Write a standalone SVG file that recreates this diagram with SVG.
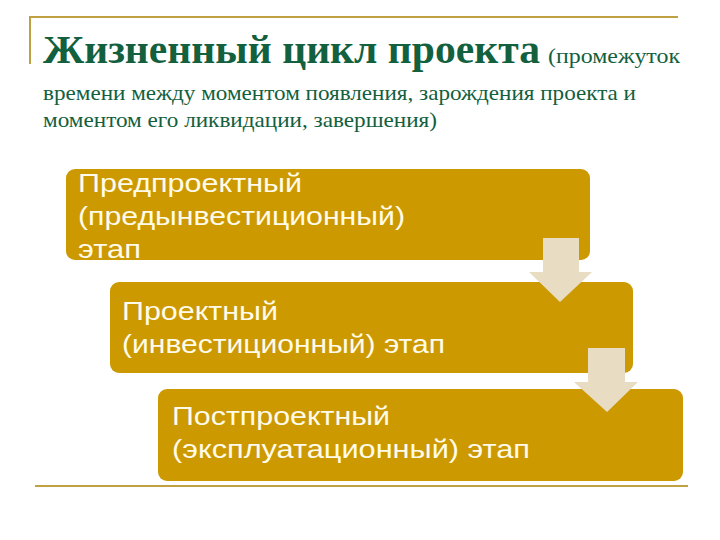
<svg xmlns="http://www.w3.org/2000/svg" width="720" height="540" viewBox="0 0 720 540">
<style>
.rule{stroke:#bfa043;stroke-width:2;fill:none}
.title{font-family:"Liberation Serif","DejaVu Serif",serif;font-weight:bold;fill:#12603e}
.sub{font-family:"Liberation Serif","DejaVu Serif",serif;fill:#12603e}
.box{fill:#cc9900}
.lbl{font-family:"Liberation Sans",Arial,sans-serif;font-size:26px;fill:#fffbea}
.arr{fill:#e8dcc2}
</style>
<rect width="720" height="540" fill="#ffffff"/>
<g id="frame">
<line class="rule" x1="29" y1="17" x2="678" y2="17"/>
<line class="rule" x1="30" y1="17" x2="30" y2="64"/>
<line class="rule" x1="35" y1="486" x2="688" y2="486"/>
</g>
<g id="heading">
<text class="title" x="43" y="63" font-size="41" textLength="497" lengthAdjust="spacingAndGlyphs">Жизненный цикл проекта</text>
<text class="sub" x="548" y="63" font-size="21" textLength="132" lengthAdjust="spacingAndGlyphs">(промежуток</text>
<text class="sub" x="43" y="100" font-size="21" textLength="593" lengthAdjust="spacingAndGlyphs">времени между моментом появления, зарождения проекта и</text>
<text class="sub" x="43" y="127" font-size="21" textLength="394" lengthAdjust="spacingAndGlyphs">моментом его ликвидации, завершения)</text>
</g>
<g id="stage1">
<rect class="box" x="66" y="169" width="524" height="91" rx="9"/>
<text class="lbl" x="78" y="192" textLength="224" lengthAdjust="spacingAndGlyphs">Предпроектный</text>
<text class="lbl" x="78" y="225" textLength="327" lengthAdjust="spacingAndGlyphs">(предынвестиционный)</text>
<text class="lbl" x="78" y="258" textLength="63" lengthAdjust="spacingAndGlyphs">этап</text>
</g>
<g id="stage2">
<rect class="box" x="110" y="282" width="523" height="91" rx="9"/>
<text class="lbl" x="122" y="320" textLength="156" lengthAdjust="spacingAndGlyphs">Проектный</text>
<text class="lbl" x="122" y="353" textLength="323" lengthAdjust="spacingAndGlyphs">(инвестиционный) этап</text>
</g>
<g id="stage3">
<rect class="box" x="158" y="389" width="525" height="92" rx="9"/>
<text class="lbl" x="172" y="425" textLength="218" lengthAdjust="spacingAndGlyphs">Постпроектный</text>
<text class="lbl" x="172" y="458" textLength="358" lengthAdjust="spacingAndGlyphs">(эксплуатационный) этап</text>
</g>
<g id="connectors">
<polygon class="arr" points="543,238 579,238 579,272 592,272 560,302 529,272 543,272"/>
<polygon class="arr" points="588,348 625,348 625,382 638,382 607,412 574,382 588,382"/>
</g>
</svg>
